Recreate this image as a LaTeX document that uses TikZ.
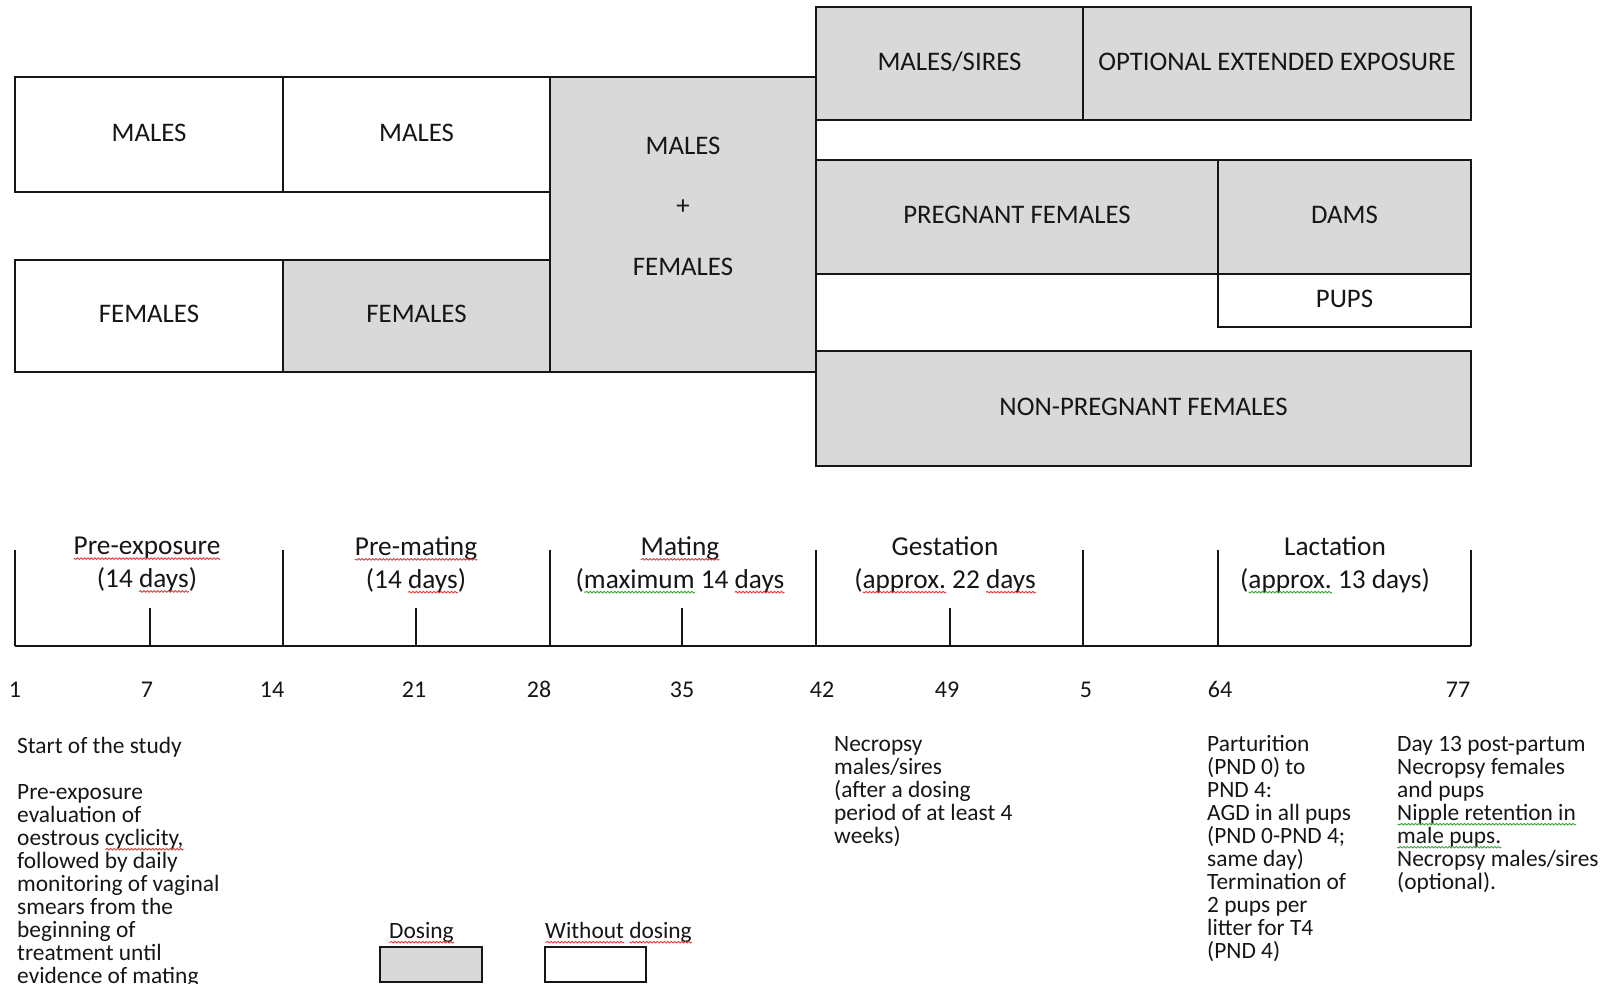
\documentclass[tikz,border=0pt]{standalone}
\usepackage{fontspec}
\setmainfont{Carlito}
\usetikzlibrary{decorations.pathmorphing}
\definecolor{boxgray}{HTML}{D9D9D9}
\definecolor{ink}{HTML}{161616}
\definecolor{sqred}{HTML}{E23B3B}
\definecolor{sqgreen}{HTML}{3AA63A}
\newsavebox\sqbox
\newcommand\sqw[2]{\sbox\sqbox{#2}\usebox\sqbox\tikz[overlay,x=1pt,y=1pt]{\draw[#1,line width=0.9pt,decorate,decoration={snake,amplitude=0.8pt,segment length=3.5pt}] (0pt,-4pt)--(-\wd\sqbox,-4pt);}}
\begin{document}
\begin{tikzpicture}[x=1pt,y=-1pt,
  bx/.style={draw=ink,line width=1.8pt,anchor=north west,inner sep=0pt,outer sep=0pt,font=\fontsize{26.8}{32}\selectfont,text=ink,text height=17.5pt,text depth=4pt},
  gb/.style={bx,fill=boxgray},
  wb/.style={bx,fill=white},
  tl/.style={line width=1.8pt,draw=ink},
  lab/.style={font=\fontsize{27.3}{32.8}\selectfont,align=center,text=ink,inner sep=0pt},
  num/.style={font=\fontsize{24}{28}\selectfont,text=ink,inner sep=0pt},
  note/.style={font=\fontsize{23.4}{23}\selectfont,align=left,text=ink,inner sep=0pt,anchor=north west}]
\useasboundingbox (0,0) rectangle (1608,984);
% boxes
\node[wb,minimum width=268pt,minimum height=115pt] (m1) at (15,77) {MALES};
\node[wb,minimum width=267pt,minimum height=115pt] (m2) at (283,77) {MALES};
\node[wb,minimum width=268pt,minimum height=112pt] (f1) at (15,260) {FEMALES};
\node[gb,minimum width=267pt,minimum height=112pt] (f2) at (283,260) {FEMALES};
\node[gb,minimum width=266pt,minimum height=295pt] (mf) at (550,77) {};
\node[font=\fontsize{26.8}{60.5}\selectfont,align=center,text=ink,inner sep=0pt] (mft) at (683,206) {MALES\\+\\FEMALES};
\node[gb,minimum width=267pt,minimum height=113pt] (ms) at (816,7) {MALES/SIRES};
\node[gb,minimum width=388pt,minimum height=113pt] (opt) at (1083,7) {OPTIONAL EXTENDED EXPOSURE};
\node[gb,minimum width=402pt,minimum height=114pt] (pf) at (816,160) {PREGNANT FEMALES};
\node[gb,minimum width=253pt,minimum height=114pt] (dams) at (1218,160) {DAMS};
\node[wb,minimum width=253pt,minimum height=53pt] (pups) at (1218,274) {PUPS};
\node[gb,minimum width=655pt,minimum height=115pt] (np) at (816,351) {NON-PREGNANT FEMALES};
% timeline
\draw[tl] (15,646) -- (1471,646);
\foreach \x in {15,283,550,816,1083,1218,1471} \draw[tl] (\x,550) -- (\x,646);
\foreach \x in {150,416,682,950} \draw[tl] (\x,608) -- (\x,646);
\node[lab] (l1) at (147,564.5) {\sqw{sqred}{Pre-exposure}\\(14 \sqw{sqred}{days})};
\node[lab] (l2) at (416,564.5) {\sqw{sqred}{Pre-mating}\\(14 \sqw{sqred}{days})};
\node[lab] (l3) at (680,564.5) {\sqw{sqred}{Mating}\\(\sqw{sqgreen}{maximum} 14 \sqw{sqred}{days}};
\node[lab] (l4) at (945,564.5) {Gestation\\(\sqw{sqred}{approx.} 22 \sqw{sqred}{days}};
\node[lab] (l5) at (1335,564.5) {Lactation\\(\sqw{sqgreen}{approx.} 13 days)};
% numbers
\foreach \x/\t [count=\i] in {15/1,147/7,272/14,414/21,539/28,682/35,822/42,947/49,1086/5,1220/64,1458/77}
  \node[num] (n\i) at (\x,689.5) {\t};
% notes
\node[note] (s1) at (17,736) {\rule{0pt}{17pt}Start of the study};
\node[note] (s2) at (17,782) {\rule{0pt}{17pt}Pre-exposure\\evaluation of\\oestrous \sqw{sqred}{cyclicity,}\\followed by daily\\monitoring of vaginal\\smears from the\\beginning of\\treatment until\\evidence of mating};
\node[note] (s3) at (834,734) {\rule{0pt}{17pt}Necropsy\\males/sires\\(after a dosing\\period of at least 4\\weeks)};
\node[note] (s4) at (1207,734) {\rule{0pt}{17pt}Parturition\\(PND 0) to\\PND 4:\\AGD in all pups\\(PND 0-PND 4;\\same day)\\Termination of\\2 pups per\\litter for T4\\(PND 4)};
\node[note] (s5) at (1397,734) {\rule{0pt}{17pt}Day 13 post-partum\\Necropsy females\\and pups\\\sqw{sqgreen}{Nipple retention in}\\\sqw{sqgreen}{male pups.}\\Necropsy males/sires\\(optional).};
% legend
\node[note] (d1) at (389,921) {\rule{0pt}{17pt}\sqw{sqred}{Dosing}};
\node[gb,minimum width=102pt,minimum height=35pt] (d2) at (380,947) {};
\node[note] (w1) at (545,921) {\rule{0pt}{17pt}\sqw{sqred}{Without} \sqw{sqred}{dosing}};
\node[wb,minimum width=101pt,minimum height=35pt] (w2) at (545,947) {};
\end{tikzpicture}
\end{document}
